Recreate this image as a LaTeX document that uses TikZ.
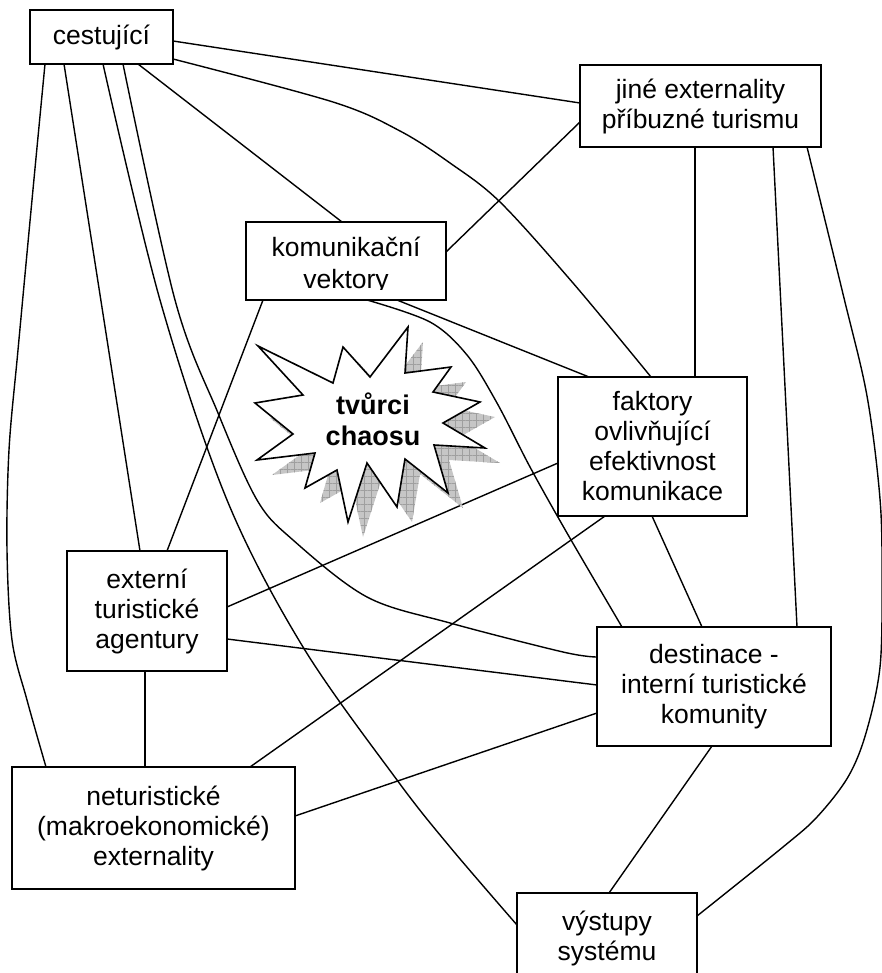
\documentclass[tikz,border=0pt]{standalone}
\usepackage{fontspec}
\setmainfont{Liberation Sans}
\usetikzlibrary{calc,patterns.meta}
\begin{document}
\begin{tikzpicture}[x=1pt,y=-1pt,
  box/.style={draw, line width=1.8pt, fill=white, inner sep=0pt, outer sep=0pt, align=center, font=\fontsize{26.5}{30}\selectfont},
  conn/.style={line width=1.4pt},
  starline/.style={line width=1.6pt, line join=miter}
]
\useasboundingbox (0,0) rectangle (882,973);

% boxes (positions)
\node[box, minimum width=143pt, minimum height=54pt] (A) at (101.5,37) {cestující};
\node[box, minimum width=241pt, minimum height=82pt] (B) at (700.5,106) {jiné externality\\příbuzné turismu};
\node[box, minimum width=200pt, minimum height=78pt] (C) at (346,261) {};
\node[box, minimum width=189pt, minimum height=139pt] (D) at (652.5,446.5) {faktory\\ovlivňující\\efektivnost\\komunikace};
\node[box, minimum width=160pt, minimum height=120pt] (E) at (147,611) {externí\\turistické\\agentury};
\node[box, minimum width=234pt, minimum height=119pt] (F) at (714,686.5) {destinace -\\interní turistické\\komunity};
\node[box, minimum width=283pt, minimum height=122pt] (G) at (153.5,828) {neturistické\\(makroekonomické)\\externality};
\node[box, minimum width=180pt, minimum height=90pt] (H) at (607,938) {výstupy\\systému};

% connector end points
\coordinate (aB) at ($(A.north east)+(0,31)$);
\coordinate (aD) at ($(A.south east)+(0,-5)$);
\coordinate (aG) at ($(A.south west)+(15,0)$);
\coordinate (aE) at ($(A.south west)+(34,0)$);
\coordinate (aH) at ($(A.south west)+(73,0)$);
\coordinate (aF) at ($(A.south west)+(93,0)$);
\coordinate (aC) at ($(A.south west)+(108,0)$);

\coordinate (bA) at ($(B.north west)+(0,38)$);
\coordinate (bC) at ($(B.north west)+(0,57)$);
\coordinate (bD) at ($(B.south west)+(115,0)$);
\coordinate (bF) at ($(B.south west)+(193,0)$);
\coordinate (bH) at ($(B.south west)+(227,0)$);

\coordinate (cA) at ($(C.north west)+(96,0)$);
\coordinate (cB) at ($(C.north east)+(0,30)$);
\coordinate (cE) at ($(C.south west)+(17,0)$);
\coordinate (cF) at ($(C.south west)+(121,0)$);
\coordinate (cD) at ($(C.south west)+(151,0)$);

\coordinate (dC) at ($(D.north west)+(31,0)$);
\coordinate (dA) at ($(D.north west)+(93,0)$);
\coordinate (dB) at ($(D.north west)+(137,0)$);
\coordinate (dE) at ($(D.north west)+(0,86)$);
\coordinate (dG) at ($(D.south west)+(47,0)$);
\coordinate (dF) at ($(D.south west)+(94,0)$);

\coordinate (eA) at ($(E.north west)+(73,0)$);
\coordinate (eC) at ($(E.north west)+(100,0)$);
\coordinate (eD) at ($(E.north east)+(0,56)$);
\coordinate (eF) at ($(E.north east)+(0,88)$);
\coordinate (eG) at ($(E.south west)+(78,0)$);

\coordinate (fC) at ($(F.north west)+(25,0)$);
\coordinate (fD) at ($(F.north west)+(105,0)$);
\coordinate (fB) at ($(F.north west)+(200,0)$);
\coordinate (fA) at ($(F.north west)+(0,30)$);
\coordinate (fE) at ($(F.north west)+(0,58)$);
\coordinate (fG) at ($(F.north west)+(0,86)$);
\coordinate (fH) at ($(F.south west)+(115,0)$);

\coordinate (gA) at ($(G.north west)+(34,0)$);
\coordinate (gE) at ($(G.north west)+(133,0)$);
\coordinate (gD) at ($(G.north west)+(238,0)$);
\coordinate (gF) at ($(G.north east)+(0,49)$);

\coordinate (hF) at ($(H.north west)+(92,0)$);
\coordinate (hA) at ($(H.north west)+(0,32)$);
\coordinate (hB) at ($(H.north east)+(0,23)$);

% straight connectors
\draw[conn] (aB) -- (bA);
\draw[conn] (aC) -- (cA);
\draw[conn] (aE) -- (eA);
\draw[conn] (cB) -- (bC);
\draw[conn] (cE) -- (eC);
\draw[conn] (cD) -- (dC);
\draw[conn] (bD) -- (dB);
\draw[conn] (bF) -- (fB);
\draw[conn] (dE) -- (eD);
\draw[conn] (dG) -- (gD);
\draw[conn] (dF) -- (fD);
\draw[conn] (eF) -- (fE);
\draw[conn] (eG) -- (gE);
\draw[conn] (fG) -- (gF);
\draw[conn] (fH) -- (hF);

% curved connectors
\draw[conn] plot[smooth, tension=0.55] coordinates {(aD) (333,102) (400,131) (450,163) (500,202) (573,283) (dA)};
\draw[conn] plot[smooth, tension=0.55] coordinates {(aG) (32,200) (18,350) (9,450) (7,550) (12,640) (27,700) (gA)};
\draw[conn] plot[smooth, tension=0.55] coordinates {(aH) (160,300) (227,500) (303,647) (397,780) (450,847) (hA)};
\draw[conn] plot[smooth, tension=0.55] coordinates {(aF) (175,300) (218,413) (257,500) (293,540) (367,597) (450,623) (563,652) (fA)};
\draw[conn] plot[smooth, tension=0.55] coordinates {(cF) (430,322) (467,355) (497,403) (530,467) (567,533) (fC)};
\draw[conn] plot[smooth, tension=0.55] coordinates {(bH) (843,294) (867,396) (880,499) (882,580) (880,667) (866,733) (848,777) (817,817) (783,847) (hB)};

% star shadow
\def\starpath{(258,346) -- (303,395) -- (255,403) -- (293,434) -- (257,460) -- (315,453) -- (305,488) -- (337,470) -- (348,522) -- (367,463) -- (397,507) -- (405,459) -- (448,493) -- (434,445) -- (485,448) -- (443,423) -- (480,402) -- (433,392) -- (451,367) -- (405,373) -- (408,327) -- (370,377) -- (343,347) -- (333,383) -- cycle}
\begin{scope}[shift={(15,15)}]
  \fill[gray!45] \starpath;
  \fill[pattern={Lines[angle=0,distance=7pt,line width=0.5pt]}, pattern color=gray!75] \starpath;
  \fill[pattern={Lines[angle=90,distance=7pt,line width=0.5pt]}, pattern color=gray!75] \starpath;
\end{scope}
\draw[starline, fill=white] \starpath;
\node[font=\fontsize{27}{31}\selectfont\bfseries, align=center] (T) at (373,419) {tvůrci\\chaosu};

% komunikační vektory text, clipped by the box
\begin{scope}
  \clip (C.north west) rectangle ($(C.south east)+(0,-11)$);
  \node[font=\fontsize{26.5}{32}\selectfont, align=center] at (346,265) {komunikační\\vektory};
\end{scope}
\end{tikzpicture}
\end{document}
